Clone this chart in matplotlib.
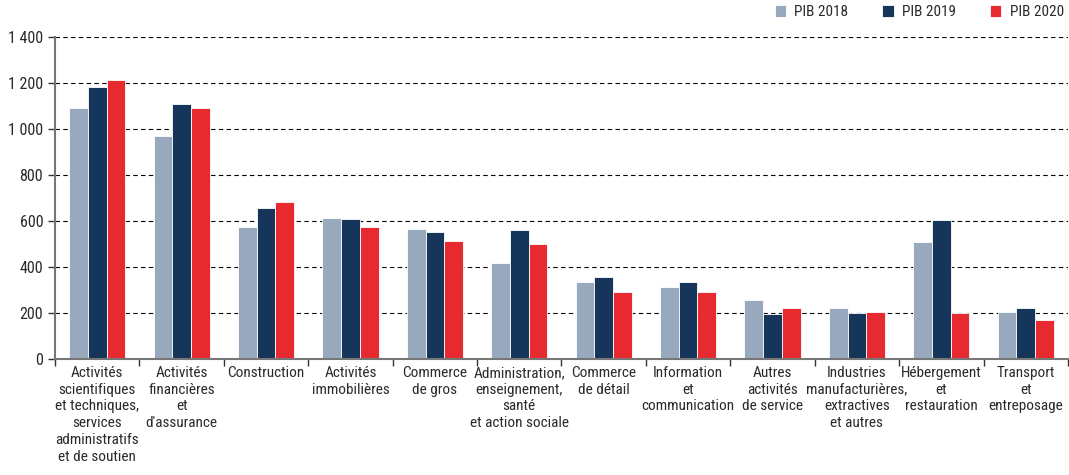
import numpy as np
import matplotlib.pyplot as plt
from matplotlib.ticker import FixedLocator, FuncFormatter

plt.rcParams['font.family'] = ['Roboto Condensed', 'Archivo Narrow', 'Liberation Sans Narrow', 'DejaVu Sans']

# Données
secteurs = [
    "Activités\nscientifiques\net techniques,\nservices\nadministratifs\net de soutien",
    "Activités\nfinancières\net\nd'assurance",
    "Construction",
    "Activités\nimmobilières",
    "Commerce\nde gros",
    "Administration,\nenseignement,\nsanté\net action sociale",
    "Commerce\nde détail",
    "Information\net\ncommunication",
    "Autres\nactivités\nde service",
    "Industries\nmanufacturières,\nextractives\net autres",
    "Hébergement\net\nrestauration",
    "Transport\net\nentreposage",
]
pib_2018 = [1090, 967, 574, 612, 563, 418, 333, 313, 257, 220, 509, 204]
pib_2019 = [1179, 1105, 654, 608, 550, 559, 355, 333, 195, 200, 603, 223]
pib_2020 = [1211, 1091, 680, 572, 514, 498, 292, 291, 221, 204, 198, 169]

series = [("PIB 2018", pib_2018, "#98a9be"),
          ("PIB 2019", pib_2019, "#16355a"),
          ("PIB 2020", pib_2020, "#e62a2f")]

fig = plt.figure(figsize=(10.69, 4.75), dpi=100)
ax = fig.add_axes([0.0515, 0.2442, 0.9475, 0.6789])

x = np.arange(len(secteurs))
larg = 2 / 9
for i, (nom, vals, coul) in enumerate(series):
    ax.bar(x + (i - 1) * larg, vals, larg, color=coul, label=nom,
           edgecolor="white", linewidth=0.6, zorder=3)

ax.set_xlim(-0.5, len(secteurs) - 0.5)
ax.set_ylim(0, 1400)
ax.set_yticks(range(0, 1401, 200))
ax.yaxis.set_major_formatter(FuncFormatter(lambda v, p: f"{int(v):,}".replace(",", " ")))
ax.grid(axis="y", linestyle=(0, (4, 3)), color="black", linewidth=0.8, zorder=0)

# ticks entre catégories, libellés au centre
ax.xaxis.set_major_locator(FixedLocator(np.arange(-0.5, len(secteurs), 1)))
ax.xaxis.set_major_formatter(FuncFormatter(lambda v, p: ""))
ax.xaxis.set_minor_locator(FixedLocator(x))
ax.set_xticklabels(secteurs, minor=True, fontsize=11, color="#2a2a2a", linespacing=1.25)
ax.tick_params(axis="x", which="minor", length=0, pad=5)
ax.tick_params(axis="x", which="major", length=5, width=1, color="#333333", direction="out")
ax.tick_params(axis="y", length=5, width=1, color="#333333", labelsize=11.5, labelcolor="#2a2a2a")

for s in ["top", "right"]:
    ax.spines[s].set_visible(False)
for s in ["left", "bottom"]:
    ax.spines[s].set_color("#777777")
    ax.spines[s].set_linewidth(1.5)
    ax.spines[s].set_zorder(4)

leg = fig.legend(loc="upper right", bbox_to_anchor=(1.0, 1.0), ncol=3, frameon=False,
                 fontsize=11, handlelength=0.75, handleheight=0.75, handletextpad=0.55,
                 columnspacing=2.2, borderpad=0.3, borderaxespad=0.05)
for t in leg.get_texts():
    t.set_color("#2a2a2a")

fig.savefig("out.png", dpi=100)
